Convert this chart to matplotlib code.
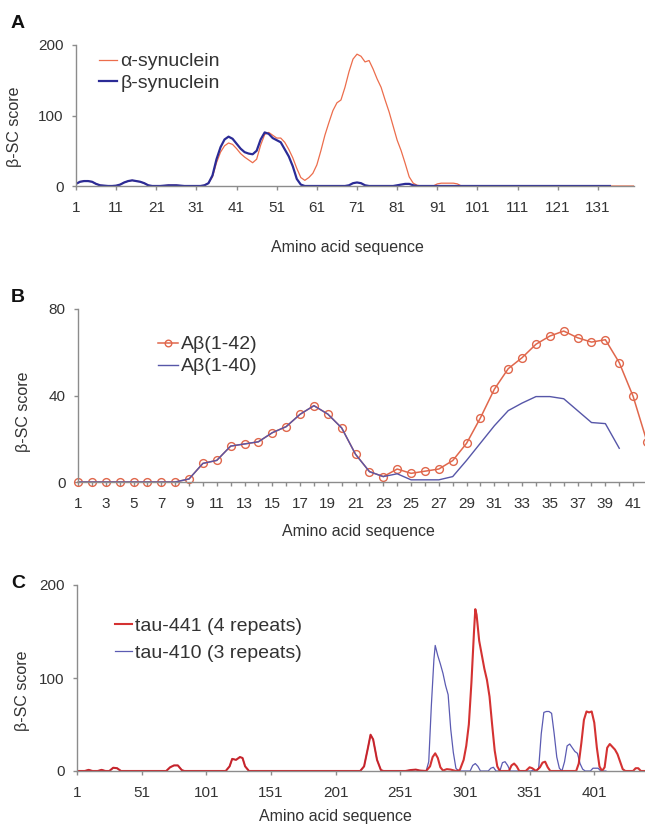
import numpy as np
import matplotlib.pyplot as plt

# ---------------- data ----------------
# Panel A: per-residue beta-SC score
alpha_syn = [3, 6, 7, 7, 6, 3, 1, 0.5, 0, 0,
             0.5, 2, 5, 7, 8, 7, 6, 4, 1, 0,
             0, 0, 0.5, 1, 1, 1, 0.5, 0, 0, 0,
             0, 0, 1, 4, 13, 33, 48, 57, 61, 59,
             53, 46, 41, 37, 33, 38, 58, 73, 76, 72,
             68, 68, 62, 52, 40, 25, 12, 8, 12, 18,
             30, 50, 72, 90, 107, 118, 122, 140, 162, 180,
             187, 184, 176, 178, 166, 152, 140, 122, 105, 85,
             65, 50, 32, 13, 4, 1, 0, 0, 0, 0,
             3, 4, 4, 4, 4, 3, 0, 0, 0, 0] + [0] * 40
beta_syn = [3, 6, 7, 7, 6, 3, 1, 0.5, 0, 0,
            0.5, 2, 5, 7, 8, 7, 6, 4, 1, 0,
            0, 0, 0.5, 1, 1, 1, 0.5, 0, 0, 0,
            0, 0, 1, 4, 15, 38, 55, 66, 70, 67,
            60, 53, 48, 46, 45, 50, 66, 76, 74, 68,
            65, 62, 52, 42, 28, 10, 2, 0, 0, 0,
            0, 0, 0, 0, 0, 0, 0, 0, 1, 4,
            5, 4, 1, 0, 0, 0, 0, 0, 0, 0,
            1, 2, 3, 3, 1, 0, 0, 0, 0, 0] + [0] * 44

# Panel B
ab42 = [0, 0, 0, 0, 0, 0, 0, 0, 1.4, 8.6,
        10, 16.6, 17.6, 18.6, 22.8, 25.6, 31.3, 35.3, 31.4, 25,
        12.8, 4.8, 2.5, 6, 4, 5, 6, 9.9, 17.9, 29.7,
        42.9, 52.4, 57.5, 63.7, 67.5, 69.8, 66.7, 64.7, 65.8, 55.2,
        39.6, 18.6]
ab40 = [0, 0, 0, 0, 0, 0, 0, 0, 1.4, 8.6,
        10, 16.6, 17.6, 18.6, 22.8, 25.6, 31.3, 35.3, 31.4, 25,
        12.8, 4.8, 2.5, 3.8, 1, 1, 1, 2.5, 10, 18,
        26, 33, 36.5, 39.5, 39.5, 38.5, 33, 27.5, 27, 15.6]

# Panel C: residue positions / scores
tau441_pos = [1, 7, 10, 13, 17, 20, 23, 26, 29, 32, 35, 70, 73, 76, 79, 82, 84,
              116, 119, 121, 124, 127, 129, 131, 134, 220, 223, 226, 228, 230, 233, 236, 238,
              255, 259, 263, 266, 271, 274, 276, 278, 280, 282, 284, 287, 290, 294,
              297, 300, 302, 304, 306, 308, 309, 310, 312, 314, 316, 318, 320, 322, 324, 326, 328,
              335, 337, 339, 341, 343, 348, 351, 353, 356, 359, 361, 363, 365, 367,
              387, 389, 391, 393, 395, 397, 399, 401, 403, 405, 407,
              409, 411, 413, 415, 417, 419, 421, 423, 425, 431, 433, 435, 437, 441]
tau441_val = [0, 0, 1.2, 0, 0, 1.2, 0, 0, 3.5, 3, 0, 0, 4, 6, 6, 1, 0,
              0, 5, 13, 12, 15, 14, 5, 0, 0, 5, 25, 39, 34, 12, 1, 0,
              0, 1, 1.5, 0.5, 0, 5, 15, 19, 14, 4, 0.5, 2, 1.5, 0,
              1, 12, 27, 50, 95, 150, 174, 168, 140, 125, 110, 98, 80, 50, 22, 5, 0,
              0, 6, 8, 5, 0, 0, 4, 3, 0, 4, 9, 10, 4, 0,
              0, 8, 30, 55, 64, 63, 64, 52, 25, 5, 0,
              4, 25, 29, 26, 23, 18, 10, 2, 0, 0, 3, 3, 0, 0]
tau410_pos = [1, 7, 10, 13, 17, 20, 23, 26, 29, 32, 35, 70, 73, 76, 79, 82, 84,
              116, 119, 121, 124, 127, 129, 131, 134, 220, 223, 226, 228, 230, 233, 236, 238,
              255, 259, 263, 266, 271, 273, 275, 277, 278, 280, 282, 284, 286, 288, 290, 292, 294, 296,
              305, 307, 309, 311, 313, 319, 321, 323, 325, 328, 330, 332, 334, 336,
              352, 354, 356, 358, 360, 362, 364, 366, 368, 370, 372, 374, 376,
              378, 380, 382, 384, 386, 388, 390, 392, 394, 398, 400, 404, 406, 410]
tau410_val = [0, 0, 1.2, 0, 0, 1.2, 0, 0, 3.5, 3, 0, 0, 4, 6, 6, 1, 0,
              0, 5, 13, 12, 15, 14, 5, 0, 0, 5, 25, 39, 34, 12, 1, 0,
              0, 1, 1.5, 0.5, 0, 10, 70, 120, 135, 124, 115, 105, 92, 82, 45, 20, 3, 0,
              0, 6, 8, 5, 0, 0, 3, 4, 0, 0, 9, 10, 6, 0,
              0, 1, 0, 3, 40, 63, 64, 64, 62, 40, 15, 3, 0,
              10, 27, 29, 25, 21, 19, 8, 2, 0, 0, 3, 3, 0, 0]

# ---------------- style ----------------
plt.rcParams['font.family'] = ['Liberation Sans', 'DejaVu Sans']
AXC = '#8c8c8c'
TXT = '#333333'

fig = plt.figure(figsize=(6.45, 8.25), dpi=100)


def style_axis(ax):
    for s in ['top', 'right']:
        ax.spines[s].set_visible(False)
    for s in ['left', 'bottom']:
        ax.spines[s].set_color(AXC)
        ax.spines[s].set_linewidth(1.0)
    ax.tick_params(axis='both', which='both', colors=AXC, labelcolor=TXT,
                   labelsize=11, length=3, width=1.0, direction='out')
    ax.tick_params(axis='x', which='both', pad=8)
    ax.tick_params(axis='y', pad=6)


def leg(ax, x, y, spacing, **kw):
    ax.legend(loc='upper left', bbox_to_anchor=(x, y), frameon=False,
              fontsize=14, handletextpad=0.15, labelspacing=spacing,
              borderpad=0, borderaxespad=0, labelcolor=TXT, **kw)


def labels(ax, xl, yl):
    ax.set_xlabel('Amino acid sequence', fontsize=11.5, color=TXT)
    ax.xaxis.label.set_verticalalignment('center')
    ax.xaxis.set_label_coords(*xl)
    ax.set_ylabel('\u03b2-SC score', fontsize=11.5, color=TXT)
    ax.yaxis.label.set_verticalalignment('center')
    ax.yaxis.set_label_coords(*yl)


# ===== A =====
axA = fig.add_axes([76 / 645, 1 - 186 / 825, 558 / 645, 141 / 825])
resA = np.arange(1, len(alpha_syn) + 1)
resB = np.arange(1, len(beta_syn) + 1)
axA.plot(resA, alpha_syn, color='#ec6d4c', lw=0.9, label='\u03b1-synuclein')
axA.plot(resB, beta_syn, color='#2b2b96', lw=1.6, label='\u03b2-synuclein')
axA.set_xlim(1, 140)
axA.set_ylim(0, 200)
axA.set_xticks(np.arange(1, 132, 10))
axA.set_yticks([0, 100, 200])
style_axis(axA)
labels(axA, (0.486, -0.433), (-0.111, 0.418))
leg(axA, 0.041, 0.945, 0.22, handlelength=0.95)
fig.text(18 / 645, 1 - 23 / 825, 'A', fontsize=14, fontweight='bold',
         ha='center', va='center', color='#111111')

# ===== B =====
axB = fig.add_axes([78 / 645, 1 - 482 / 825, 569 / 645, 173 / 825])
r42 = np.arange(1, len(ab42) + 1)
r40 = np.arange(1, len(ab40) + 1)
axB.plot(r42, ab42, color='#e0674c', lw=1.1, marker='o', ms=5.6,
         mfc='none', mec='#e0674c', mew=1.0, label='A\u03b2(1-42)', clip_on=False)
axB.plot(r40, ab40, color='#5656a8', lw=1.0, label='A\u03b2(1-40)')
axB.set_xlim(1, 42)
axB.set_ylim(0, 80)
axB.set_xticks(np.arange(1, 42, 2))
axB.set_xticks(np.arange(2, 43, 2), minor=True)
axB.set_yticks([0, 40, 80])
style_axis(axB)
labels(axB, (0.492, -0.289), (-0.095, 0.405))
leg(axB, 0.141, 0.845, 0.22, handlelength=1.0, markerscale=0.85)
fig.text(18 / 645, 1 - 297 / 825, 'B', fontsize=14, fontweight='bold',
         ha='center', va='center', color='#111111')

# ===== C =====
axC = fig.add_axes([77 / 645, 1 - 771 / 825, 569 / 645, 186 / 825])
axC.plot(tau410_pos, tau410_val, color='#5b5bb2', lw=0.9, label='tau-410 (3 repeats)')
axC.plot(tau441_pos, tau441_val, color='#d01c1c', lw=1.5, alpha=0.9, label='tau-441 (4 repeats)')
axC.set_xlim(1, 441)
axC.set_ylim(0, 200)
axC.set_xticks(np.arange(1, 402, 50))
axC.set_yticks([0, 100, 200])
style_axis(axC)
labels(axC, (0.455, -0.247), (-0.095, 0.43))
h, l = axC.get_legend_handles_labels()
axC.legend(h[::-1], l[::-1], loc='upper left', bbox_to_anchor=(0.067, 0.828), frameon=False,
           fontsize=14, handlelength=0.85, handletextpad=0.15, labelspacing=0.5,
           borderpad=0, borderaxespad=0, labelcolor=TXT)
fig.text(18 / 645, 1 - 583 / 825, 'C', fontsize=14, fontweight='bold',
         ha='center', va='center', color='#111111')

fig.savefig('out.png', dpi=100)
